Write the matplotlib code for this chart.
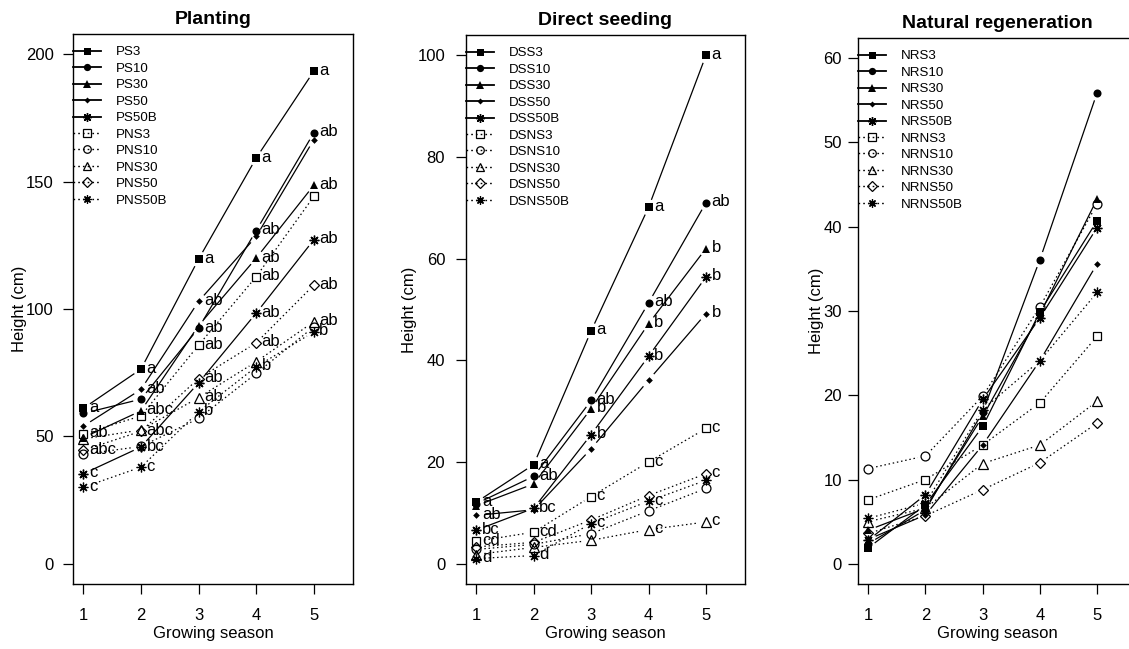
import numpy as np
import matplotlib
matplotlib.use("Agg")
import matplotlib.pyplot as plt
from matplotlib.lines import Line2D
from matplotlib.transforms import offset_copy

plt.rcParams['font.family'] = ['Liberation Sans', 'DejaVu Sans']

seasons = [1, 2, 3, 4, 5]

# ---------------- Planting ----------------
p_names = ["PS3", "PS10", "PS30", "PS50", "PS50B", "PNS3", "PNS10", "PNS30", "PNS50", "PNS50B"]
PS3 = [61, 76.4, 119.6, 159.3, 193.4]
PS10 = [59, 64.6, 92.5, 130.8, 169.2]
PS30 = [49.5, 60, 93.5, 120, 148.6]
PS50 = [54, 68.4, 103, 128.5, 166.5]
PS50B = [35.3, 45.8, 71, 98.4, 127.2]
PNS3 = [51, 58, 85.8, 112.7, 144.2]
PNS10 = [43, 46, 57, 74.7, 93]
PNS30 = [49, 52.5, 65.2, 79.3, 95]
PNS50 = [44.5, 52, 72.7, 86.7, 109.4]
PNS50B = [30, 37.9, 59.6, 77.3, 91]
p_values = [PS3, PS10, PS30, PS50, PS50B, PNS3, PNS10, PNS30, PNS50, PNS50B]
p_letters = [
    ["a", "a", "a", "a", "a"],
    ["", "", "ab", "ab", "ab"],
    ["", "abc", "", "ab", "ab"],
    ["", "ab", "ab", "", ""],
    ["c", "bc", "", "ab", "ab"],
    ["ab", "", "ab", "ab", ""],
    ["", "", "", "", ""],
    ["", "", "ab", "", "ab"],
    ["abc", "abc", "ab", "ab", "ab"],
    ["c", "c", "b", "b", "b"],
]

# ---------------- Direct seeding ----------------
d_names = ["DSS3", "DSS10", "DSS30", "DSS50", "DSS50B", "DSNS3", "DSNS10", "DSNS30", "DSNS50", "DSNS50B"]
DSS3 = [12.1, 19.5, 45.8, 70.1, 100]
DSS10 = [11.8, 17.2, 32.1, 51.3, 71]
DSS30 = [11.4, 15.7, 30.5, 47.2, 62]
DSS50 = [9.5, 10.6, 22.6, 36.1, 49.2]
DSS50B = [6.6, 10.9, 25.4, 40.8, 56.4]
DSNS3 = [4.4, 6.2, 13.2, 20.0, 26.6]
DSNS10 = [2.8, 3.8, 5.9, 10.4, 14.8]
DSNS30 = [1.8, 3.2, 4.6, 6.7, 8.2]
DSNS50 = [3.3, 4.2, 8.6, 13.4, 17.7]
DSNS50B = [1.0, 1.6, 7.9, 12.3, 16.4]
d_values = [DSS3, DSS10, DSS30, DSS50, DSS50B, DSNS3, DSNS10, DSNS30, DSNS50, DSNS50B]
d_letters = [
    ["a", "a", "a", "a", "a"],
    ["", "ab", "ab", "ab", "ab"],
    ["", "", "b", "b", "b"],
    ["ab", "", "", "", "b"],
    ["bc", "bc", "b", "b", "b"],
    ["cd", "cd", "c", "c", "c"],
    ["", "", "", "", ""],
    ["", "", "", "c", "c"],
    ["", "", "", "", "c"],
    ["d", "d", "c", "c", ""],
]

# ---------------- Natural regeneration ----------------
n_names = ["NRS3", "NRS10", "NRS30", "NRS50", "NRS50B", "NRNS3", "NRNS10", "NRNS30", "NRNS50", "NRNS50B"]
NRS3 = [1.9, 7.0, 16.3, 29.9, 40.7]
NRS10 = [2.4, 6.4, 18.0, 36.1, 55.9]
NRS30 = [4.0, 6.6, 17.5, 29.6, 43.3]
NRS50 = [2.9, 5.8, 14.1, 24.1, 35.6]
NRS50B = [2.8, 8.2, 19.5, 29.2, 39.9]
NRNS3 = [7.6, 10.0, 14.1, 19.1, 27.0]
NRNS10 = [11.3, 12.8, 19.9, 30.5, 42.7]
NRNS30 = [5.0, 6.6, 11.9, 14.1, 19.3]
NRNS50 = [3.6, 5.7, 8.8, 12.0, 16.7]
NRNS50B = [5.4, 7.2, 18.3, 24.1, 32.2]
n_values = [NRS3, NRS10, NRS30, NRS50, NRS50B, NRNS3, NRNS10, NRNS30, NRNS50, NRNS50B]

titles = ["Planting", "Direct seeding", "Natural regeneration"]
y_ticks = [np.arange(0, 201, 50), np.arange(0, 101, 20), np.arange(0, 61, 10)]
y_max = [200, 100, 60]

# marker styles (R pch 15,16,17,18,8,0,1,2,5,8)
ast = (8, 2, 0)
styles = [
    dict(marker="s", ms=5.6, filled=True),
    dict(marker="o", ms=5.8, filled=True),
    dict(marker="^", ms=6.3, filled=True),
    dict(marker="D", ms=3.4, filled=True),
    dict(marker=ast, ms=7.0, filled=True),
    dict(marker="s", ms=6.2, filled=False),
    dict(marker="o", ms=6.4, filled=False),
    dict(marker="^", ms=7.0, filled=False),
    dict(marker="D", ms=5.4, filled=False),
    dict(marker=ast, ms=7.0, filled=False),
]

W, H = 1129, 649
fig = plt.figure(figsize=(W / 100, H / 100), dpi=100)

# panel boxes in pixels: left, top, right, bottom
boxes = [(73, 34, 353, 584), (466, 35, 745, 584), (858, 38, 1136, 584)]
ylab_x = [-0.166, -0.176, -0.124]
ytick_pad = [7.0, 8.0, 4.5]

GAP = 8.0  # px gap between points and connecting lines (R type="b")


def draw_series(ax, x, y, ls, st, lw):
    pts = ax.transData.transform(np.column_stack([x, y]))
    inv = ax.transData.inverted()
    for i in range(len(pts) - 1):
        p0, p1 = pts[i], pts[i + 1]
        d = p1 - p0
        L = np.hypot(*d)
        if L > 2 * GAP + 1:
            u = d / L
            a = inv.transform(p0 + u * GAP)
            b = inv.transform(p1 - u * GAP)
            ax.plot([a[0], b[0]], [a[1], b[1]], color="black", lw=lw, ls=ls,
                    solid_capstyle="butt")
    if st["filled"]:
        ax.plot(x, y, ls="none", marker=st["marker"], ms=st["ms"], color="black",
                mfc="black", mec="black",
                mew=1.0 if st["marker"] == ast else 0.0)
    else:
        ax.plot(x, y, ls="none", marker=st["marker"], ms=st["ms"], color="black",
                mfc="none", mec="black", mew=0.9)


all_names = [p_names, d_names, n_names]
all_values = [p_values, d_values, n_values]
all_letters = [p_letters, d_letters, None]

for k in range(3):
    l, t, r, b = boxes[k]
    ax = fig.add_axes([l / W, 1 - b / H, (r - l) / W, (b - t) / H])
    ax.set_xlim(0.82, 5.68)
    ax.set_ylim(-0.04 * y_max[k], 1.04 * y_max[k])
    names = all_names[k]
    vals = all_values[k]
    handles = []
    for i, (nm, v) in enumerate(zip(names, vals)):
        st = styles[i]
        ls = "-" if i < 5 else (0, (1.2, 2.2))
        draw_series(ax, seasons, v, ls, st, 0.9)
        if st["filled"]:
            h = Line2D([], [], color="black", lw=1.3, ls=ls, marker=st["marker"],
                       ms=st["ms"] * 0.9, mfc="black", mec="black",
                       mew=1.0 if st["marker"] == ast else 0.0)
        else:
            h = Line2D([], [], color="black", lw=1.0, ls=ls, marker=st["marker"],
                       ms=st["ms"] * 0.85, mfc="none", mec="black", mew=0.9)
        handles.append(h)
    lets = all_letters[k]
    if lets is not None:
        tr = offset_copy(ax.transData, fig=fig, x=5.5, y=1.0, units="dots")
        for i, v in enumerate(vals):
            for j, s in enumerate(seasons):
                if lets[i][j]:
                    ax.text(s, v[j], lets[i][j], transform=tr, ha="left", va="center",
                            fontsize=12, color="black")
    leg = ax.legend(handles, names, loc="upper left", frameon=False,
                    bbox_to_anchor=(0.0, 1 - 12 / (b - t)), borderaxespad=0,
                    borderpad=0, handlelength=2.1, handletextpad=1.15,
                    labelspacing=0.31, fontsize=9.6)
    ax.set_xticks(seasons)
    ax.set_yticks(y_ticks[k])
    ax.tick_params(axis="x", direction="out", length=7, width=0.9, pad=10, labelsize=12)
    ax.tick_params(axis="y", direction="out", length=7, width=0.9,
                   pad=ytick_pad[k], labelsize=12)
    for sp in ax.spines.values():
        sp.set_linewidth(1.0)
        sp.set_color("black")
    ax.set_title(titles[k], fontsize=14, fontweight="bold", pad=7)
    ax.set_xlabel("Growing season", fontsize=12)
    ax.xaxis.set_label_coords(0.5, -0.077)
    ax.set_ylabel("Height (cm)", fontsize=12)
    ax.yaxis.set_label_coords(ylab_x[k], 0.5)

fig.savefig("out.png", dpi=100)
